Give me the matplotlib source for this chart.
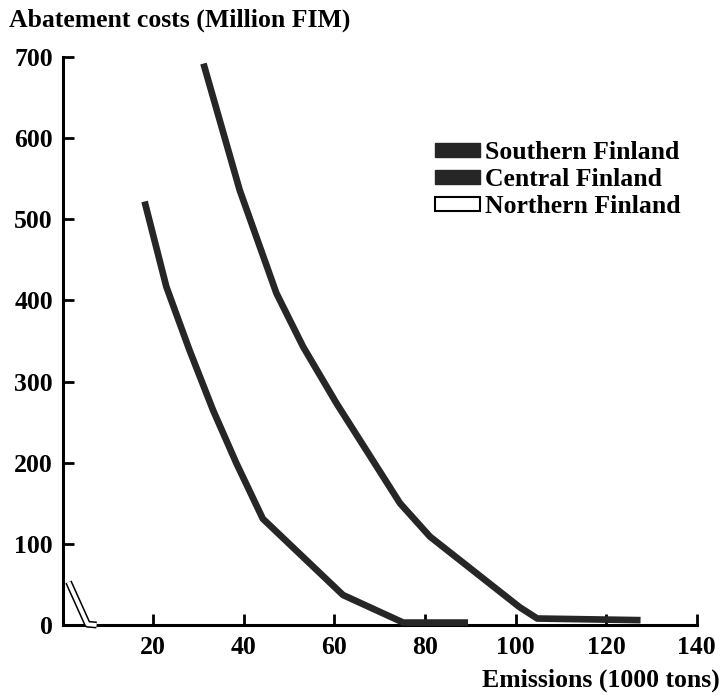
import matplotlib.pyplot as plt
from matplotlib.patches import Patch

plt.rcParams['font.family'] = ['Liberation Serif', 'DejaVu Serif']
plt.rcParams['font.weight'] = 'bold'

# values
south_x = [18.1, 22.9, 28.0, 33.2, 38.4, 44.2, 61.9, 75.2, 89.5]
south_y = [522, 417, 339, 265, 199, 131, 37, 3, 3]

central_x = [31.1, 39.1, 47.2, 53.1, 60.5, 67.9, 74.5, 81.1, 100.9, 104.8, 127.6]
central_y = [692, 536, 409, 343, 273, 208, 150, 109, 22, 8, 6]

north_x = [1.3, 5.5, 7.5]
north_y = [53, 1, 0]

xticks = [0, 20, 40, 60, 80, 100, 120, 140]
yticks = [0, 100, 200, 300, 400, 500, 600, 700]

fig = plt.figure(figsize=(7.28, 6.96), dpi=100)
ax = fig.add_axes([0.086, 0.102, 0.871, 0.816])

dark = '#262626'
ax.plot(south_x, south_y, color=dark, lw=4.8, solid_capstyle='butt',
        solid_joinstyle='round', clip_on=False, zorder=3)
ax.plot(central_x, central_y, color=dark, lw=4.8, solid_capstyle='butt',
        solid_joinstyle='round', clip_on=False, zorder=3)
ax.plot(north_x, north_y, color='black', lw=5, solid_capstyle='butt',
        clip_on=False, zorder=3)
ax.plot(north_x, north_y, color='white', lw=2.8, solid_capstyle='butt',
        clip_on=False, zorder=4)

ax.set_xlim(0, 140)
ax.set_ylim(0, 700)
ax.set_xticks(xticks)
ax.set_yticks(yticks)
ax.set_xticklabels(['', '20', '40', '60', '80', '100', '120', '140'])
ax.spines['top'].set_visible(False)
ax.spines['right'].set_visible(False)
for s in ['left', 'bottom']:
    ax.spines[s].set_linewidth(2.2)
ax.tick_params(direction='in', length=8, width=2, labelsize=18.5, pad=7)
ax.tick_params(axis='x', pad=8)

handles = [Patch(facecolor=dark, edgecolor=dark),
           Patch(facecolor=dark, edgecolor=dark),
           Patch(facecolor='white', edgecolor='black', lw=1.5)]
ax.legend(handles, ['Southern Finland', 'Central Finland', 'Northern Finland'],
          loc='upper left', bbox_to_anchor=(0.587, 0.852), frameon=False,
          fontsize=18.5, handlelength=1.75, handleheight=0.45, handletextpad=0.2,
          labelspacing=0.16, borderaxespad=0, borderpad=0)

fig.text(0.012, 0.971, 'Abatement costs (Million FIM)', fontsize=18.5,
         fontweight='bold', va='center', ha='left')
fig.text(0.988, 0.023, 'Emissions (1000 tons)', fontsize=18.5,
         fontweight='bold', va='center', ha='right')

fig.savefig('out.png', dpi=100)
